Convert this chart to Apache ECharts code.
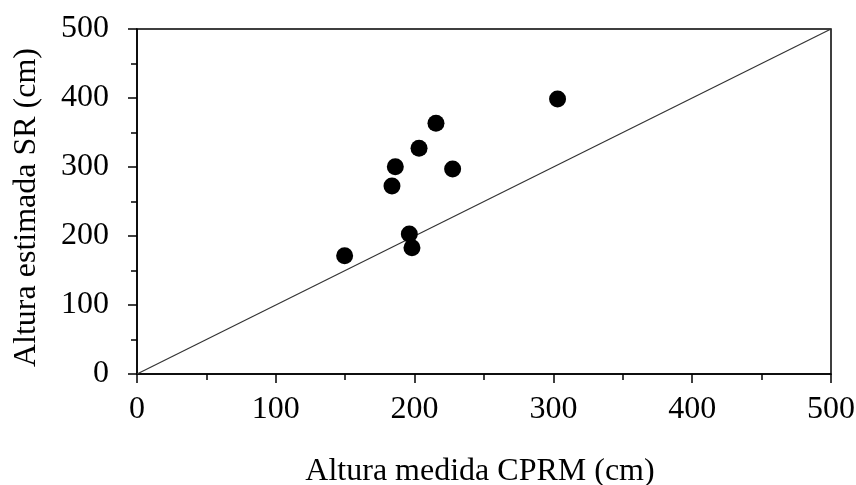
<!DOCTYPE html>
<html>
<head>
<meta charset="utf-8">
<script src="https://cdn.jsdelivr.net/npm/echarts@6/dist/echarts.min.js"></script>
<style>
html,body{margin:0;padding:0;background:#fff;}
#chart{width:856px;height:485px;}
</style>
</head>
<body>
<div id="chart"></div>
<script>
// Data
const measuredCPRM = [149.6, 183.7, 186.1, 196.2, 198.1, 203.2, 215.4, 227.4, 303.0];
const estimatedSR  = [171.4, 272.5, 300.4, 202.9, 183.0, 327.1, 363.3, 297.1, 398.6];
const identityLine = [[0, 0], [500, 500]];
const xTitle = 'Altura medida CPRM (cm)';
const yTitle = 'Altura estimada SR (cm)';
const axisMin = 0, axisMax = 500, axisStep = 100;

const points = measuredCPRM.map((x, i) => [x, estimatedSR[i]]);
const font = 'Liberation Serif';

const chart = echarts.init(document.getElementById('chart'));
chart.setOption({
  animation: false,
  backgroundColor: '#fff',
  grid: {
    left: 137, right: 25, top: 29, bottom: 111,
    containLabel: false, outerBoundsMode: 'none',
    show: true, borderColor: '#000', borderWidth: 1.5, backgroundColor: 'transparent'
  },
  xAxis: {
    type: 'value', min: axisMin, max: axisMax, interval: axisStep,
    name: xTitle, nameLocation: 'middle', nameGap: 82,
    nameTextStyle: { fontFamily: font, fontSize: 32, color: '#000', padding: [0, 8, 0, 0] },
    axisLine: { show: true, onZero: false, lineStyle: { color: '#000', width: 1.5 } },
    axisTick: { show: true, inside: false, length: 9, lineStyle: { color: '#000', width: 1.5 } },
    minorTick: { show: true, splitNumber: 2, length: 6, lineStyle: { color: '#000', width: 1.5 } },
    axisLabel: { fontFamily: font, fontSize: 32, color: '#000', margin: 20 },
    splitLine: { show: false }
  },
  yAxis: {
    type: 'value', min: axisMin, max: axisMax, interval: axisStep,
    name: yTitle, nameLocation: 'middle', nameGap: 94,
    nameTextStyle: { fontFamily: font, fontSize: 32, color: '#000', padding: [0, 12, 0, 0] },
    axisLine: { show: true, onZero: false, lineStyle: { color: '#000', width: 1.5 } },
    axisTick: { show: true, inside: false, length: 9, lineStyle: { color: '#000', width: 1.5 } },
    minorTick: { show: true, splitNumber: 2, length: 6, lineStyle: { color: '#000', width: 1.5 } },
    axisLabel: { fontFamily: font, fontSize: 32, color: '#000', margin: 28 },
    splitLine: { show: false }
  },
  series: [
    {
      type: 'line', data: identityLine, showSymbol: false, symbol: 'none',
      lineStyle: { color: '#333', width: 1.2 }, silent: true, z: 1
    },
    {
      type: 'scatter', data: points, symbol: 'circle', symbolSize: 17,
      itemStyle: { color: '#000', opacity: 1 }, z: 3
    }
  ]
});
</script>
</body>
</html>
